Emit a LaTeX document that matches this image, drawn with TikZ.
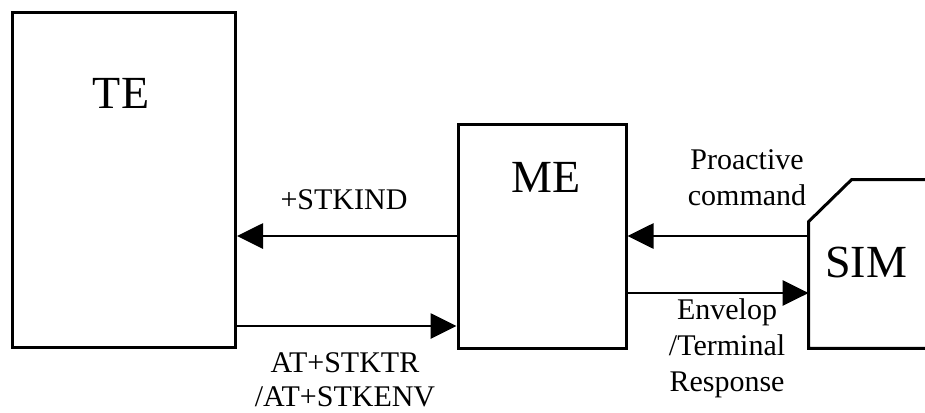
\documentclass[tikz,border=0pt]{standalone}
\usepackage{fontspec}
\setmainfont{Liberation Serif}
\usetikzlibrary{arrows.meta}
\tikzstyle{unit}=[draw,line width=1.5pt,inner sep=0pt]
\tikzstyle{bigtext}=[font=\fontsize{23}{27}\selectfont,inner sep=0pt]
\tikzstyle{msgtext}=[font=\fontsize{15}{18}\selectfont,inner sep=0pt,align=center]
\tikzstyle{msg}=[line width=1.4pt,-{Triangle[length=13pt,width=12.5pt]}]

\begin{document}
\begin{tikzpicture}[x=0.5pt,y=-0.5pt]
\useasboundingbox (0,0) rectangle (925,412);
\clip (0,0) rectangle (925,412);
% boxes
\node[unit,minimum width=111.5pt,minimum height=167.5pt] (te) at (124,179.5) {};
\node[unit,minimum width=84pt,minimum height=112pt] (me) at (542,236) {};
\node[minimum width=68pt,minimum height=84pt,inner sep=0pt] (sim) at (877,264) {};
\draw[line width=1.5pt] (sim.north east) -- ([xshift=21.5pt]sim.north west)
   -- ([yshift=-21pt]sim.north west) -- (sim.south west) -- (sim.south east);
\node[bigtext] (telabel) at (121,93) {TE};
\node[bigtext] (melabel) at (546,177) {ME};
\node[bigtext] (simlabel) at (866,262) {SIM};
% messages
\draw[msg] (me.west) -- (me.west -| te.east);
\coordinate (tecmd) at (te.east |- 0,326);
\draw[msg] (tecmd) -- (tecmd -| me.west);
\draw[msg] (me.east -| sim.west) -- (me.east);
\coordinate (meenv) at (me.east |- 0,293);
\draw[msg] (meenv) -- (meenv -| sim.west);
\node[msgtext] (ind) at (344,200) {+STKIND};
\node[msgtext,font=\fontsize{15}{17}\selectfont,anchor=north] (tr) at (345,352) {AT+STKTR\\/AT+STKENV};
\node[msgtext,anchor=north] (pro) at (747,149) {Proactive\\command};
\node[msgtext,anchor=north] (env) at (727,298) {Envelop\\/Terminal\\Response};
\end{tikzpicture}
\end{document}
